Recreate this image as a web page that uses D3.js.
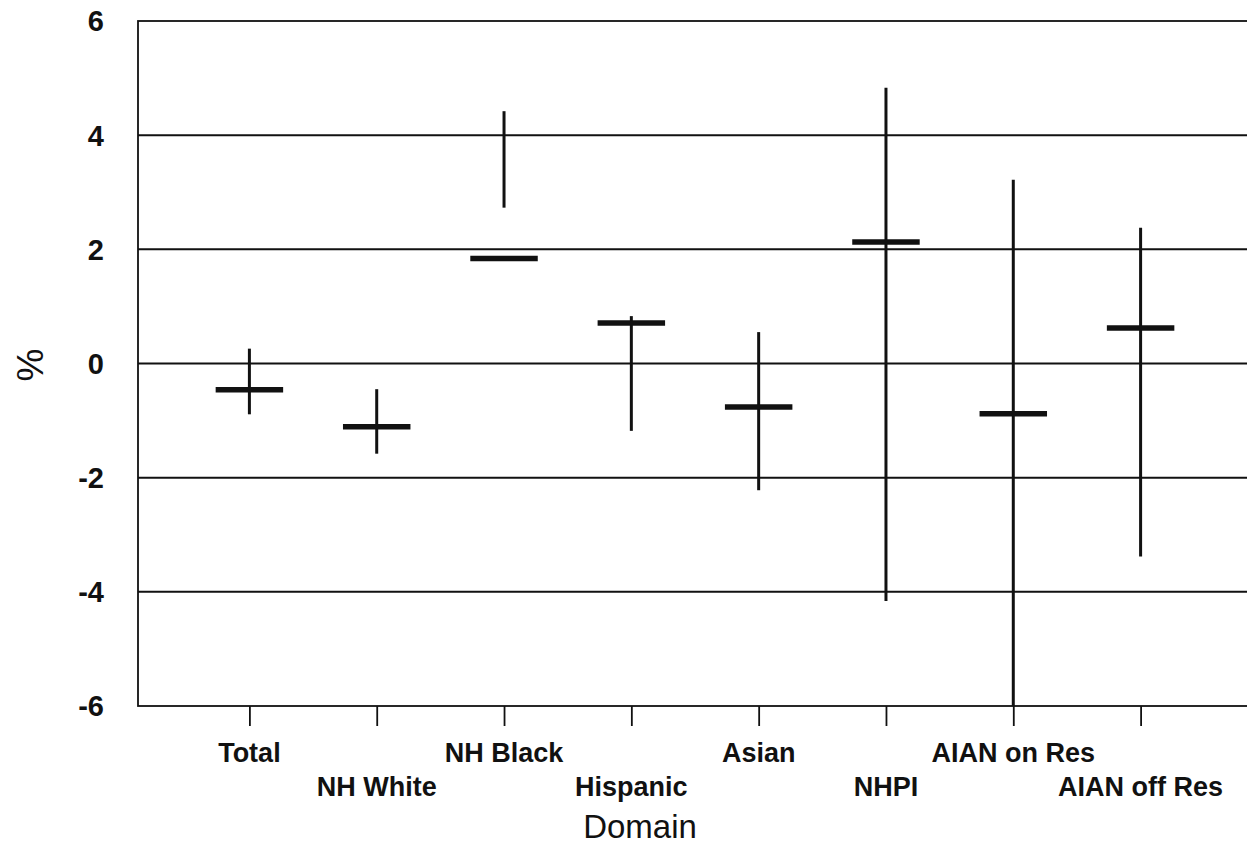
<!DOCTYPE html>
<html>
  <head>
    <meta charset="utf-8">
    <title>Domain differences</title>
    <script src="https://d3js.org/d3.v7.min.js"></script>
    <style>
      body { margin: 0; background: #fff; }
      svg { display: block; font-family: "Liberation Sans", Arial, sans-serif; }
      .grid line { stroke: #111; stroke-width: 2; }
      .tick-label { font-weight: bold; font-size: 27px; fill: #111; }
      .y-label { font-weight: bold; font-size: 29px; fill: #111; }
    </style>
  </head>
  <body>
    <svg width="1247" height="857"></svg>
    <script>
      // domains along the x axis
      const domains = ["Total", "NH White", "NH Black", "Hispanic", "Asian", "NHPI", "AIAN on Res", "AIAN off Res"];
      // estimate (%) and the ends of each vertical line
      const estimates = [-0.46, -1.11, 1.84, 0.71, -0.76, 2.13, -0.88, 0.62];
      const lower     = [-0.89, -1.58, 2.73, -1.18, -2.22, -4.16, -6.4, -3.38];
      const upper     = [0.26, -0.45, 4.42, 0.83, 0.55, 4.83, 3.22, 2.38];
      const yTicks = [6, 4, 2, 0, -2, -4, -6];

      const data = domains.map((d, i) => ({ name: d, est: estimates[i], lo: lower[i], hi: upper[i] }));

      // plot box (right edge runs just past the window like the scan)
      const plotLeft = 138, plotRight = 1252, plotTop = 21, plotBottom = 706;

      const svg = d3.select("svg");

      const x = d3.scalePoint()
          .domain(domains)
          .range([plotLeft, plotRight])
          .padding(0.875);

      const y = d3.scaleLinear()
          .domain([-6, 6])
          .range([plotBottom, plotTop]);

      // clip so the lines stop at the frame
      svg.append("defs").append("clipPath").attr("id", "plot")
          .append("rect")
          .attr("x", plotLeft).attr("y", plotTop)
          .attr("width", plotRight - plotLeft).attr("height", plotBottom - plotTop);

      // horizontal grid lines
      svg.append("g")
          .attr("class", "grid")
          .selectAll("line")
          .data(yTicks.filter(t => t !== 6 && t !== -6))
          .enter().append("line")
          .attr("x1", plotLeft).attr("x2", plotRight)
          .attr("y1", d => y(d)).attr("y2", d => y(d));

      // frame
      svg.append("rect")
          .attr("x", plotLeft).attr("y", plotTop)
          .attr("width", plotRight - plotLeft).attr("height", plotBottom - plotTop)
          .style("fill", "none")
          .style("stroke", "#111")
          .style("stroke-width", 1.8);

      // y axis labels
      svg.append("g")
          .selectAll("text")
          .data(yTicks)
          .enter().append("text")
          .attr("class", "y-label")
          .attr("x", 104)
          .attr("y", d => y(d))
          .attr("dy", "0.36em")
          .attr("text-anchor", "end")
          .text(d => d);

      // x axis ticks
      const xAxis = d3.axisBottom(x).tickSize(20).tickFormat("");
      const gx = svg.append("g")
          .attr("transform", `translate(0,${plotBottom})`)
          .call(xAxis);
      gx.select(".domain").remove();
      gx.selectAll(".tick line").style("stroke", "#111").style("stroke-width", 1.8);

      // staggered category labels
      svg.append("g")
          .selectAll("text")
          .data(domains)
          .enter().append("text")
          .attr("class", "tick-label")
          .attr("x", d => x(d))
          .attr("y", (d, i) => i % 2 === 0 ? 762 : 796)
          .attr("text-anchor", "middle")
          .text(d => d);

      // axis titles
      svg.append("text")
          .attr("transform", "translate(43,365) rotate(-90)")
          .attr("text-anchor", "middle")
          .style("font-size", "37px")
          .style("fill", "#111")
          .text("%");

      svg.append("text")
          .attr("x", 640)
          .attr("y", 838)
          .attr("text-anchor", "middle")
          .style("font-size", "33px")
          .style("fill", "#111")
          .text("Domain");

      const marks = svg.append("g").attr("clip-path", "url(#plot)");

      // vertical range lines
      marks.selectAll(".range")
          .data(data)
          .enter().append("line")
          .attr("class", "range")
          .attr("x1", d => x(d.name)).attr("x2", d => x(d.name))
          .attr("y1", d => y(d.hi)).attr("y2", d => y(d.lo))
          .style("stroke", "#111")
          .style("stroke-width", 3);

      // estimate bars
      const half = x.step() * 0.265;
      marks.selectAll(".est")
          .data(data)
          .enter().append("line")
          .attr("class", "est")
          .attr("x1", d => x(d.name) - half).attr("x2", d => x(d.name) + half)
          .attr("y1", d => y(d.est)).attr("y2", d => y(d.est))
          .style("stroke", "#111")
          .style("stroke-width", 5.5);
    </script>
  </body>
</html>
